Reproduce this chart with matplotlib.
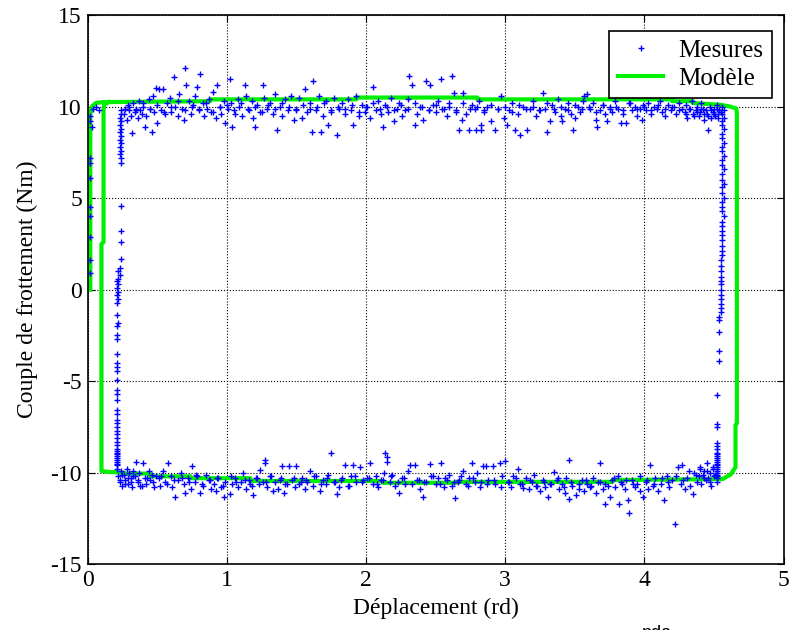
import matplotlib.pyplot as plt
import numpy as np

plt.rcParams['font.family'] = ['Liberation Serif', 'DejaVu Serif']
plt.rcParams['axes.unicode_minus'] = False

# model (green loop)
model_x = [0.02, 0.02, 0.03, 0.06, 0.11, 0.88, 0.88, 1.93, 1.93, 2.80, 2.80, 4.20, 4.20,
           4.35, 4.35, 4.55, 4.62, 4.66, 4.665, 4.665, 4.655, 4.655, 4.62, 4.56, 3.77, 3.77,
           2.65, 2.65, 2.12, 2.12, 1.17, 1.17, 0.74, 0.74, 0.45, 0.45, 0.26, 0.26, 0.14,
           0.10, 0.10, 0.115, 0.115, 0.12, 0.15]
model_y = [0.0, 9.6, 10.0, 10.2, 10.25, 10.3, 10.4, 10.4, 10.5, 10.5, 10.4, 10.4, 10.3,
           10.3, 10.2, 10.1, 10.0, 9.9, 9.7, -7.3, -7.4, -9.7, -10.1, -10.35, -10.4, -10.5,
           -10.5, -10.55, -10.55, -10.45, -10.45, -10.3, -10.3, -10.2, -10.2, -10.05,
           -10.05, -10.0, -9.95, -9.9, 2.5, 2.6, 9.8, 10.1, 10.25]

# measured points, top band
top_x = [0.26, 0.27, 0.28, 0.29, 0.30, 0.31, 0.32, 0.33, 0.34, 0.35, 0.36, 0.37, 0.38, 0.39,
         0.40, 0.41, 0.42, 0.44, 0.45, 0.46, 0.47, 0.48, 0.49, 0.50,
         0.51, 0.53, 0.54, 0.56, 0.57, 0.59, 0.60, 0.62, 0.63, 0.65, 0.66, 0.68, 0.69, 0.70,
         0.71, 0.73, 0.74, 0.76, 0.77, 0.79, 0.80, 0.81, 0.83, 0.84, 0.86, 0.87, 0.89, 0.90,
         0.92, 0.93, 0.95, 0.96, 0.98, 0.99,
         1.01, 1.02, 1.03, 1.04, 1.06, 1.08, 1.09, 1.11, 1.13, 1.14, 1.16, 1.18, 1.19, 1.20,
         1.22, 1.24, 1.26, 1.27, 1.29, 1.31, 1.33, 1.35, 1.36, 1.38, 1.40, 1.42, 1.44, 1.46, 1.48,
         1.50, 1.52, 1.54, 1.56, 1.58, 1.60, 1.61, 1.62, 1.64, 1.66, 1.68, 1.69, 1.71, 1.73,
         1.75, 1.77, 1.79, 1.81, 1.83, 1.85, 1.87, 1.89, 1.91, 1.93, 1.95, 1.97, 1.99,
         2.01, 2.03, 2.05, 2.07, 2.09, 2.11, 2.12, 2.14, 2.16, 2.18, 2.20, 2.22, 2.24, 2.26,
         2.28, 2.30, 2.31, 2.33, 2.35, 2.37, 2.39, 2.41, 2.43, 2.45, 2.46, 2.48,
         2.50, 2.52, 2.54, 2.56, 2.58, 2.60, 2.62, 2.63, 2.65, 2.67, 2.69, 2.70, 2.72, 2.74,
         2.76, 2.78, 2.79, 2.81, 2.83, 2.83, 2.85, 2.87, 2.90, 2.93, 2.95, 2.97, 2.99,
         3.01, 3.03, 3.05, 3.07, 3.09, 3.11, 3.13, 3.16, 3.18, 3.20, 3.22, 3.24, 3.27, 3.29,
         3.30, 3.32, 3.34, 3.36, 3.38, 3.40, 3.41, 3.43, 3.45, 3.47, 3.49, 3.50,
         3.52, 3.54, 3.56, 3.57, 3.59, 3.61, 3.63, 3.65, 3.66, 3.68, 3.70, 3.72, 3.73, 3.75,
         3.77, 3.79, 3.81, 3.83, 3.85, 3.87, 3.89, 3.91, 3.93, 3.95, 3.97, 3.98, 3.99,
         4.01, 4.03, 4.05, 4.07, 4.09, 4.11, 4.13, 4.15, 4.17, 4.19, 4.21, 4.23, 4.25, 4.27,
         4.29, 4.30, 4.31, 4.33, 4.34, 4.35, 4.37, 4.38, 4.39, 4.40, 4.41, 4.42, 4.43, 4.44,
         4.45, 4.46, 4.47, 4.48, 4.49, 4.50, 4.51, 4.52, 4.53, 4.54]
top_y = [9.6, 9.9, 9.3, 10.1, 9.8, 9.5, 8.55, 10.2, 9.7, 9.9, 9.4, 10.3, 9.8, 9.6,
         10.0, 8.9, 9.5, 10.4, 9.9, 8.6, 10.6, 9.7, 11.0, 9.1,
         10.97, 9.8, 10.97, 9.6, 10.2, 10.5, 9.7, 11.6, 10.0, 9.5, 10.7, 9.9, 9.3, 12.1,
         11.2, 10.3, 9.6, 10.1, 10.6, 11.1, 9.8, 11.8, 10.2, 9.5, 9.9, 10.4, 9.7, 10.8,
         9.4, 11.2, 10.0, 9.6, 10.3, 9.1,
         9.9, 11.5, 10.2, 8.9, 9.6, 10.4, 10.0, 9.5, 11.2, 10.6, 9.8, 10.3, 9.4, 8.9,
         10.1, 9.7, 11.2, 10.5, 9.9, 10.2, 9.6, 10.7, 8.7, 10.0, 9.5, 10.4, 9.8, 10.6, 9.3,
         9.9, 10.5, 9.4, 10.97, 9.7, 10.2, 8.6, 11.4, 9.8, 10.6, 8.6, 9.5, 10.3, 9.0,
         9.7, 10.5, 8.45, 9.9, 10.2, 9.6, 10.4, 9.8, 9.0, 10.6, 9.5, 10.1, 9.7,
         10.0, 9.4, 11.1, 9.8, 10.3, 9.6, 8.9, 10.1, 9.7, 10.5, 9.2, 9.9, 10.2, 9.5,
         9.8, 10.4, 11.65, 11.2, 9.0, 9.6, 10.0, 9.3, 11.4, 9.8, 11.2, 10.1,
         9.7, 10.3, 11.5, 9.9, 9.5, 10.2, 11.65, 10.75, 9.8, 8.7, 9.3, 10.75, 9.6, 8.75,
         10.1, 9.9, 8.7, 10.3, 8.7, 9.0, 9.7, 10.0, 9.2, 8.7, 9.9, 10.6, 9.4,
         9.0, 9.8, 10.2, 8.75, 9.6, 8.45, 10.0, 8.7, 9.9, 10.3, 9.5, 9.8, 10.75, 9.9,
         8.6, 9.2, 10.1, 9.7, 10.4, 9.5, 9.2, 9.9, 10.2, 9.6, 8.7, 9.4,
         10.0, 9.7, 10.3, 10.6, 10.7, 9.9, 10.2, 9.3, 8.9, 9.8, 10.1, 9.6, 9.2, 10.0,
         9.7, 10.3, 9.9, 9.1, 9.6, 9.1, 10.2, 9.8, 10.0, 9.5, 9.9, 9.3, 10.1,
         9.8, 10.2, 9.6, 10.0, 9.9, 10.3, 9.7, 9.5, 10.1, 9.8, 10.0, 9.6, 10.2, 9.9,
         9.7, 10.1, 9.4, 9.9, 10.3, 9.6, 9.8, 10.0, 9.5, 9.7, 10.2, 9.9, 9.3, 9.8,
         9.6, 8.75, 10.0, 9.4, 9.7, 9.9, 9.5, 10.1, 9.6, 9.8]

# dense layer just under the top line
top2_x = [0.30, 0.35, 0.40, 0.45, 0.50, 0.55, 0.60, 0.65, 0.70, 0.75, 0.80, 0.85, 0.90, 0.95,
          1.00, 1.05, 1.10, 1.15, 1.20, 1.25, 1.30, 1.35, 1.40, 1.45, 1.50, 1.55, 1.60, 1.65,
          1.70, 1.75, 1.80, 1.85, 1.90, 1.95, 2.00, 2.05, 2.10, 2.15, 2.20, 2.25, 2.30, 2.35,
          2.40, 2.45, 2.50, 2.55, 2.60, 2.65, 2.70, 2.75, 2.80, 2.85, 2.90, 2.95, 3.00, 3.05,
          3.10, 3.15, 3.20, 3.25, 3.30, 3.35, 3.40, 3.45, 3.50, 3.55, 3.60, 3.65, 3.70, 3.75,
          3.80, 3.85, 3.90, 3.95, 4.00, 4.05, 4.10, 4.15, 4.20, 4.25, 4.30, 4.32, 4.36, 4.38,
          4.41, 4.43, 4.46, 4.48, 4.50, 4.52, 4.53, 4.55]
top2_y = [10.0, 9.8, 10.2, 9.9, 10.1, 9.7, 10.0, 10.3, 9.8, 10.0, 9.9, 10.2, 9.7, 10.0,
          10.1, 9.8, 10.2, 9.9, 10.0, 9.7, 10.1, 9.9, 10.2, 10.0, 9.8, 10.1, 9.9, 10.0,
          10.2, 9.8, 10.0, 9.9, 10.1, 9.7, 10.0, 10.2, 9.9, 10.0, 9.8, 10.1, 9.9, 10.2,
          10.0, 9.8, 10.1, 9.9, 10.0, 9.7, 10.2, 9.9, 10.0, 9.8, 10.1, 9.9, 10.0, 9.7,
          10.1, 9.9, 10.0, 9.8, 10.2, 9.9, 10.0, 9.8, 10.1, 9.9, 10.0, 9.7, 10.1, 9.9,
          10.0, 9.8, 10.2, 9.9, 10.0, 9.8, 10.1, 9.9, 10.0, 9.8, 9.6, 9.9, 9.5, 9.7,
          9.9, 9.6, 9.5, 9.8, 9.6, 9.9, 9.4, 9.7]

# measured points, bottom band
bot_x = [0.22, 0.23, 0.24, 0.25, 0.26, 0.27, 0.28, 0.29, 0.30, 0.31, 0.32, 0.33, 0.34, 0.35,
         0.36, 0.37, 0.38, 0.40, 0.41, 0.42, 0.44, 0.45, 0.46, 0.48, 0.49,
         0.51, 0.52, 0.54, 0.56, 0.58, 0.60, 0.61, 0.63, 0.65, 0.67, 0.69, 0.70, 0.72, 0.74,
         0.75, 0.77, 0.79, 0.81, 0.83, 0.85, 0.87, 0.89, 0.91, 0.92, 0.94, 0.96, 0.98, 0.99,
         1.02, 1.04, 1.06, 1.08, 1.10, 1.12, 1.14, 1.16, 1.18, 1.19, 1.21, 1.23, 1.24, 1.26,
         1.275, 1.275, 1.29, 1.31, 1.33, 1.35, 1.37, 1.39, 1.40, 1.41, 1.43, 1.45, 1.47, 1.49,
         1.50, 1.52, 1.54, 1.56, 1.58, 1.60, 1.62, 1.64, 1.67, 1.69, 1.71, 1.73, 1.75, 1.77,
         1.79, 1.81, 1.83, 1.85, 1.87, 1.89, 1.91, 1.93, 1.96, 1.98,
         2.01, 2.03, 2.05, 2.07, 2.09, 2.11, 2.13, 2.14, 2.15, 2.15, 2.17, 2.19, 2.21, 2.24,
         2.26, 2.28, 2.30, 2.32, 2.35, 2.37, 2.39, 2.41, 2.43, 2.46, 2.48,
         2.50, 2.52, 2.54, 2.56, 2.58, 2.60, 2.62, 2.64, 2.66, 2.68, 2.70, 2.72, 2.74, 2.76,
         2.78, 2.80, 2.82, 2.84, 2.86, 2.88, 2.91, 2.93, 2.96, 2.98, 3.00,
         3.02, 3.04, 3.06, 3.09, 3.11, 3.13, 3.15, 3.17, 3.19, 3.21, 3.23, 3.25, 3.27, 3.29,
         3.31, 3.33, 3.35, 3.37, 3.39, 3.41, 3.43, 3.44, 3.46, 3.46, 3.48, 3.51,
         3.53, 3.55, 3.57, 3.59, 3.61, 3.63, 3.65, 3.67, 3.68, 3.70, 3.72, 3.74, 3.75, 3.77,
         3.79, 3.81, 3.82, 3.84, 3.86, 3.88, 3.89, 3.91, 3.93, 3.95, 3.97, 3.99,
         4.01, 4.03, 4.04, 4.06, 4.08, 4.10, 4.12, 4.14, 4.16, 4.18, 4.20, 4.22, 4.24, 4.26,
         4.27, 4.29, 4.31, 4.33, 4.35, 4.36, 4.38, 4.39, 4.40, 4.41, 4.42, 4.43, 4.44, 4.45,
         4.46, 4.47, 4.48, 4.49, 4.50]
bot_y = [-10.2, -10.5, -9.9, -10.7, -10.1, -10.4, -9.8, -10.6, -10.0, -10.3, -10.8, -9.9, -10.2, -9.4,
         -10.5, -10.0, -10.7, -9.45, -10.3, -10.6, -9.9, -10.4, -10.1, -10.8, -10.2,
         -10.3, -10.75, -9.9, -10.5, -9.45, -10.2, -10.8, -11.35, -10.4, -10.0, -10.6, -11.1, -10.3, -10.9,
         -9.65, -10.5, -10.2, -11.1, -10.7, -10.1, -10.4, -10.9, -10.6, -11.0, -10.3, -10.8, -11.35, -10.5,
         -11.15, -10.6, -10.3, -10.8, -10.5, -10.0, -10.9, -10.4, -10.7, -11.2, -10.3, -10.6, -9.85, -10.5,
         -9.3, -9.45, -10.8, -10.2, -11.0, -10.5, -10.9, -10.3, -9.65, -11.1, -10.6, -9.65, -10.4, -10.8,
         -9.65, -10.6, -10.3, -10.9, -10.5, -9.9, -10.7, -10.2, -11.0, -10.4, -10.6, -10.1, -8.9, -10.5,
         -11.15, -10.8, -10.3, -9.6, -10.7, -10.2, -9.6, -10.5, -9.7, -10.4,
         -10.3, -9.45, -10.6, -10.2, -10.8, -10.4, -10.0, -8.9, -9.15, -9.4, -10.5, -10.1, -10.7, -11.1,
         -10.3, -10.6, -9.9, -9.6, -9.6, -10.4, -10.9, -11.35, -10.5, -9.5, -10.2,
         -10.6, -10.3, -9.45, -10.8, -10.4, -10.1, -10.7, -11.4, -10.5, -10.2, -9.9, -10.6, -10.3, -9.45,
         -10.5, -10.0, -10.8, -9.65, -9.65, -10.4, -9.65, -10.6, -9.45, -10.2, -9.35,
         -10.5, -10.8, -10.2, -9.8, -10.6, -10.85, -10.3, -10.9, -10.5, -10.1, -10.7, -11.0, -10.4, -10.8,
         -11.3, -10.6, -9.95, -10.4, -10.9, -10.6, -11.1, -10.3, -9.3, -11.45, -10.7, -11.2,
         -10.9, -10.4, -11.0, -10.6, -10.8, -10.3, -11.1, -10.5, -9.45, -10.9, -11.7, -10.7, -11.35, -10.4,
         -10.8, -10.2, -11.7, -10.6, -10.9, -11.5, -12.2, -10.4, -10.8, -10.6, -11.0, -11.35,
         -10.5, -10.9, -9.6, -10.7, -10.3, -11.0, -10.6, -11.5, -10.2, -10.8, -10.4, -12.8, -9.7, -10.6,
         -9.6, -10.9, -10.3, -10.7, -11.15, -10.0, -10.5, -10.2, -9.8, -10.6, -10.1, -9.9, -10.4, -9.45,
         -10.3, -10.0, -10.7, -9.7, -10.2]

# dense layer around the bottom line
bot2_x = [0.23, 0.25, 0.27, 0.29, 0.31, 0.33, 0.36, 0.39, 0.43, 0.47, 0.53, 0.57, 0.62, 0.68,
          0.73, 0.78, 0.82, 0.88, 0.93, 0.97, 1.03, 1.07, 1.13, 1.17, 1.22, 1.28, 1.32, 1.38,
          1.42, 1.48, 1.53, 1.57, 1.63, 1.68, 1.72, 1.78, 1.82, 1.88, 1.92, 1.97, 2.02, 2.08,
          2.12, 2.18, 2.23, 2.27, 2.33, 2.38, 2.42, 2.47, 2.53, 2.57, 2.63, 2.67, 2.73, 2.77,
          2.83, 2.87, 2.92, 2.97, 3.03, 3.08, 3.12, 3.18, 3.22, 3.28, 3.32, 3.38, 3.42, 3.47,
          3.53, 3.58, 3.62, 3.68, 3.72, 3.78, 3.83, 3.87, 3.92, 3.97, 4.02, 4.07, 4.13, 4.17,
          4.23, 4.28, 4.32, 4.37, 4.40, 4.43, 4.45, 4.47, 4.49, 4.51]
bot2_y = [-10.4, -10.1, -10.6, -10.3, -10.5, -10.2, -10.4, -10.7, -10.3, -10.5, -10.2, -10.6, -10.4, -10.3,
          -10.5, -10.1, -10.6, -10.4, -10.3, -10.7, -10.2, -10.5, -10.4, -10.6, -10.3, -10.5, -10.2, -10.4,
          -10.6, -10.3, -10.5, -10.4, -10.2, -10.6, -10.3, -10.5, -10.4, -10.7, -10.2, -10.5, -10.3, -10.6,
          -10.4, -10.2, -10.5, -10.3, -10.6, -10.4, -10.5, -10.2, -10.6, -10.3, -10.5, -10.4, -10.7, -10.3,
          -10.5, -10.6, -10.4, -10.8, -10.5, -10.3, -10.6, -10.4, -10.7, -10.5, -10.6, -10.3, -10.8, -10.5,
          -10.6, -10.4, -10.7, -10.5, -10.6, -10.3, -10.5, -10.4, -10.6, -10.2, -10.4, -10.6, -10.3, -10.5,
          -10.2, -10.4, -9.9, -10.1, -9.7, -10.3, -9.9, -10.5, -9.8, -10.1]

# measured points, left column (rising edge near x = 0.2)
left_x = [0.24, 0.24, 0.23, 0.24, 0.23, 0.24, 0.23, 0.24, 0.23, 0.24, 0.23, 0.24, 0.23, 0.24, 0.24,
          0.24, 0.24, 0.24, 0.24, 0.23, 0.22, 0.23, 0.22, 0.21, 0.22, 0.21, 0.22, 0.21, 0.22,
          0.21, 0.21, 0.22, 0.21, 0.21, 0.21, 0.21, 0.21, 0.21, 0.21, 0.21, 0.21, 0.21, 0.21,
          0.21, 0.21, 0.21, 0.21, 0.21, 0.21, 0.21, 0.21, 0.21, 0.21, 0.21, 0.21, 0.21, 0.21,
          0.21, 0.21, 0.21, 0.21, 0.21, 0.21, 0.21]
left_y = [9.8, 9.6, 9.4, 9.2, 9.0, 8.8, 8.6, 8.4, 8.2, 8.0, 7.8, 7.6, 7.4, 7.2, 6.9,
          4.6, 3.2, 2.6, 1.7, 1.2, 1.0, 0.8, 0.6, 0.45, 0.3, 0.1, -0.1, -0.3, -0.5,
          -0.7, -1.4, -1.8, -2.0, -2.5, -2.7, -3.5, -4.0, -4.2, -4.45, -4.95, -5.5, -5.7, -6.0,
          -6.55, -6.8, -7.1, -7.3, -7.5, -7.7, -7.9, -8.1, -8.3, -8.5, -8.7, -8.8, -8.9, -9.0,
          -9.1, -9.2, -9.3, -9.4, -9.5, -9.6, -9.8]

# measured points near x = 0 (start of the test)
start_x = [0.02, 0.02, 0.03, 0.02, 0.02, 0.02, 0.02, 0.02, 0.02, 0.02, 0.02, 0.04, 0.06, 0.08]
start_y = [9.5, 9.2, 8.9, 7.2, 6.9, 6.1, 4.5, 4.0, 2.9, 1.6, 0.9, 9.9, 10.0, 9.8]

# measured points, right column (falling edge near x = 4.56)
right_x = [4.56, 4.57, 4.56, 4.57, 4.56, 4.56, 4.57, 4.56, 4.56, 4.57, 4.56, 4.56, 4.57, 4.56,
           4.56, 4.57, 4.56, 4.56, 4.57, 4.56, 4.56, 4.57, 4.56, 4.56, 4.56, 4.57, 4.56, 4.56,
           4.56, 4.56, 4.56, 4.56, 4.56, 4.56, 4.55, 4.55, 4.55, 4.55, 4.55, 4.55, 4.55, 4.55,
           4.55, 4.55, 4.55, 4.55, 4.54, 4.54, 4.54, 4.54, 4.54, 4.52, 4.52,
           4.52, 4.52, 4.52, 4.52, 4.52, 4.52, 4.52, 4.52, 4.52, 4.52, 4.52, 4.52, 4.52, 4.52,
           4.52, 4.52, 4.52, 4.52, 4.52, 4.52]
right_y = [10.0, 9.8, 9.6, 9.4, 9.2, 9.0, 8.8, 8.5, 8.3, 8.0, 7.8, 7.6, 7.3, 7.1, 6.8,
           6.6, 6.3, 6.0, 5.8, 5.6, 5.3, 5.0, 4.8, 4.5, 4.3, 4.0, 3.7, 3.5, 3.2, 3.0, 2.7,
           2.4, 2.1, 1.9, 1.6, 1.3, 1.0, 0.7, 0.5, 0.3, 0.0, -0.3, -0.5, -0.8, -1.0, -1.2,
           -1.5, -1.65, -2.3, -3.35, -3.9, -5.75, -7.5,
           -7.35, -8.4, -8.55, -8.7, -8.9, -9.0, -9.1, -9.2, -9.3, -9.4, -9.5, -9.6, -9.7,
           -9.8, -9.9, -10.0, -10.1, -10.2, -10.3, -10.5]

mes_x = np.concatenate([start_x, left_x, top_x, top2_x, right_x, bot_x, bot2_x])
mes_y = np.concatenate([start_y, left_y, top_y, top2_y, right_y, bot_y, bot2_y])

fig = plt.figure(figsize=(7.9, 6.3), dpi=100)
ax = fig.add_axes([0.1108, 0.1044, 0.881, 0.8715])

ax.plot(mes_x, mes_y, '+', color='#0000ff', ms=5, mew=1.0, label='Mesures', zorder=3)
ax.plot(model_x, model_y, '-', color='#00f000', lw=3, label='Modèle', zorder=2)

ax.set_xlim(0, 5)
ax.set_ylim(-15, 15)
ax.set_xticks([0, 1, 2, 3, 4, 5])
ax.set_yticks([-15, -10, -5, 0, 5, 10, 15])
ax.grid(True, color='black', linestyle=':', linewidth=0.8)
ax.tick_params(direction='in', length=5, labelsize=17, top=True, right=True)
ax.tick_params(axis='x', pad=4)
ax.tick_params(axis='y', pad=4)
for s in ax.spines.values():
    s.set_linewidth(1.2)

ax.set_xlabel('Déplacement (rd)', fontsize=17, labelpad=5)
ax.set_ylabel('Couple de frottement (Nm)', fontsize=17, labelpad=9)

leg = ax.legend(loc='upper right', bbox_to_anchor=(0.977, 0.951), bbox_transform=fig.transFigure,
                fontsize=18, fancybox=False, framealpha=1, edgecolor='black', borderaxespad=0,
                handlelength=1.8, handletextpad=0.6, borderpad=0.35, labelspacing=0.2)
leg.get_frame().set_linewidth(1.2)

fig.text(0.813, 0.008, 'nda', fontsize=13, family='Liberation Sans', va='top')

fig.savefig('out.png', dpi=100)
